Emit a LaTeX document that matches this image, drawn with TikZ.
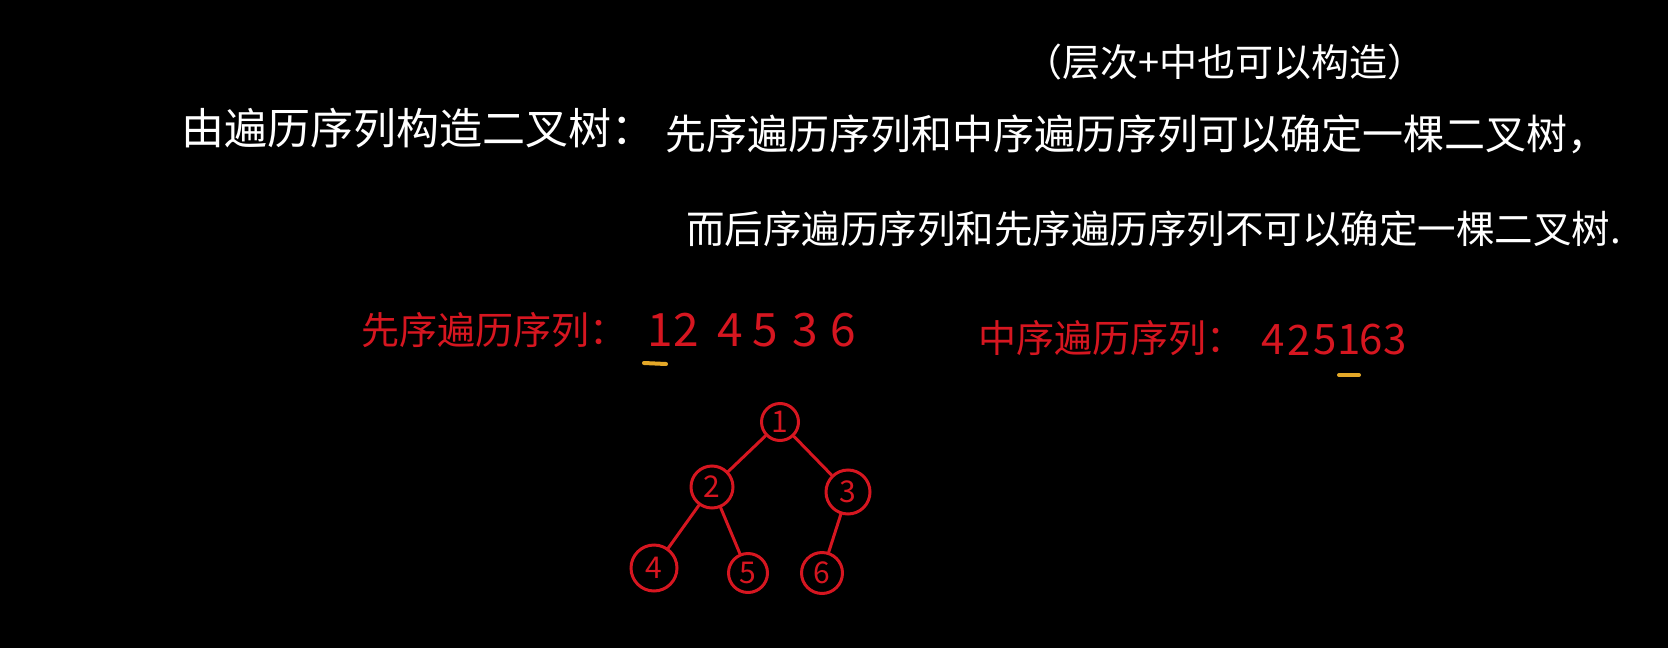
\documentclass[tikz,border=0pt]{standalone}
\usepackage{fontspec}
\setmainfont{Noto Sans CJK SC}
\definecolor{hwred}{RGB}{214,22,32}
\definecolor{hworange}{RGB}{228,168,40}
\tikzset{
  wtext/.style={text=white,inner sep=0pt,anchor=west},
  rtext/.style={text=hwred,inner sep=0pt,anchor=west},
  rdigit/.style={text=hwred,inner sep=0pt,anchor=center},
  tnode/.style={draw=hwred,line width=3pt,circle,inner sep=0pt,text=hwred},
  tedge/.style={draw=hwred,line width=3pt,line cap=round},
  uline/.style={draw=hworange,line width=4pt,line cap=round}
}
\begin{document}
\begin{tikzpicture}[x=1pt,y=-1pt]
\fill[black] (0,0) rectangle (1668,648);
\useasboundingbox (0,0) rectangle (1668,648);
% white text
\node[wtext,font=\fontsize{38}{42}\selectfont] (top) at (1024,62) {（层次+中也可以构造）};
\node[wtext,font=\fontsize{43}{46}\selectfont] (l1a) at (181,128) {由遍历序列构造二叉树：};
\node[wtext,font=\fontsize{41}{46}\selectfont] (l1b) at (665,134) {先序遍历序列和中序遍历序列可以确定一棵二叉树，};
\node[wtext,font=\fontsize{38.5}{42}\selectfont] (l2) at (686,229) {而后序遍历序列和先序遍历序列不可以确定一棵二叉树.};
% red sequences
\node[rtext,font=\fontsize{38}{42}\selectfont] (pre) at (361,330) {先序遍历序列：};
\begin{scope}[every node/.style={rdigit,font=\fontsize{46}{48}\selectfont}]
\node (p1) at (660,330) {1};
\node (p2) at (686,330) {2};
\node (p3) at (730,330) {4};
\node (p4) at (765,330) {5};
\node (p5) at (805,330) {3};
\node (p6) at (843,330) {6};
\end{scope}
\node[rtext,font=\fontsize{38}{42}\selectfont] (ino) at (978,338) {中序遍历序列：};
\begin{scope}[every node/.style={rdigit,font=\fontsize{42}{44}\selectfont}]
\node (i1) at (1273,340) {4};
\node (i2) at (1299,340) {2};
\node (i3) at (1325,340) {5};
\node (i4) at (1349,340) {1};
\node (i5) at (1371,340) {6};
\node (i6) at (1395,340) {3};
\end{scope}
\coordinate (ua) at (644,363);
\coordinate (ub) at (666,364);
\draw[uline] (ua) -- (ub);
\coordinate (uc) at (1339,375);
\coordinate (ud) at (1359,375);
\draw[uline] (uc) -- (ud);
% tree
\begin{scope}[every node/.style={tnode,font=\fontsize{30}{32}\selectfont}]
\node[minimum size=37pt] (n1) at (780,422) {1};
\node[minimum size=42pt] (n2) at (712,487) {2};
\node[minimum size=44pt] (n3) at (848,492) {3};
\node[minimum size=46pt] (n4) at (654,568) {4};
\node[minimum size=39pt] (n5) at (748,573) {5};
\node[minimum size=41pt] (n6) at (822,573) {6};
\end{scope}
\draw[tedge] (n1) -- (n2);
\draw[tedge] (n1) -- (n3);
\draw[tedge] (n2) -- (n4);
\draw[tedge] (n2) -- (n5);
\draw[tedge] (n3) -- (n6);
\end{tikzpicture}
\end{document}
